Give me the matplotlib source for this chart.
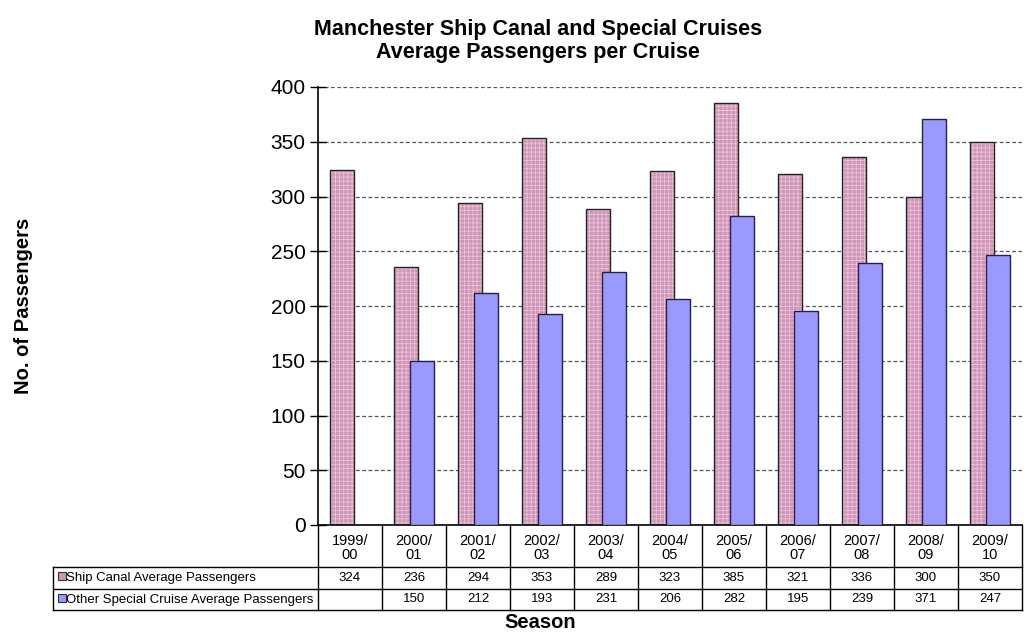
import numpy as np
import matplotlib.pyplot as plt
from matplotlib.transforms import blended_transform_factory

plt.rcParams['font.family'] = ['Liberation Sans', 'DejaVu Sans']

seasons = ['1999/\n00', '2000/\n01', '2001/\n02', '2002/\n03', '2003/\n04', '2004/\n05',
           '2005/\n06', '2006/\n07', '2007/\n08', '2008/\n09', '2009/\n10']
ship_canal = [324, 236, 294, 353, 289, 323, 385, 321, 336, 300, 350]
special = [None, 150, 212, 193, 231, 206, 282, 195, 239, 371, 247]
series_names = ['Ship Canal Average Passengers', 'Other Special Cruise Average Passengers']

pink = '#CF94B8'
pink_hatch = '#E9C3D8'
blue = '#9999FF'

fig = plt.figure(figsize=(10.26, 6.37), dpi=100)
ax = fig.add_axes([318 / 1026, 1 - 525 / 637, 704 / 1026, 438 / 637])

x = np.arange(len(seasons))
w = 0.375
plt.rcParams['hatch.linewidth'] = 0.6
# pink bars with a fine light grid, then outline
ax.bar(x - 0.125, ship_canal, w, color=pink, edgecolor=pink_hatch, hatch='++++', linewidth=0, zorder=2)
ax.bar(x - 0.125, ship_canal, w, facecolor='none', edgecolor='#222222', linewidth=1, zorder=3)
sx = [xi for xi, v in zip(x, special) if v is not None]
sv = [v for v in special if v is not None]
ax.bar(np.array(sx) + 0.125, sv, w, color=blue, edgecolor='#222244', linewidth=1, zorder=4)

ax.set_xlim(-0.5, len(seasons) - 0.5)
ax.set_ylim(0, 400)
ax.set_yticks(range(0, 401, 50))
ax.tick_params(axis='y', direction='inout', length=12, width=1, labelsize=15, pad=3)
ax.set_xticks([])
for v in range(50, 401, 50):
    ax.axhline(v, color='#555555', linestyle=(0, (3, 2)), linewidth=0.9, zorder=1)
for s in ['top', 'right']:
    ax.spines[s].set_visible(False)
ax.spines['left'].set_linewidth(1.2)
ax.spines['bottom'].set_linewidth(1.2)

# data table below the axes
tr = blended_transform_factory(ax.transData, ax.transAxes)
h = 438.0
y0 = 0
y1 = -(567 - 525) / h
y2 = -(589 - 525) / h
y3 = -(610 - 525) / h
xl = -0.5 - (318 - 53) / 64.0
xr = len(seasons) - 0.5
kw = dict(color='black', linewidth=1, transform=tr, clip_on=False)
for k in range(len(seasons) + 1):
    ax.plot([k - 0.5, k - 0.5], [y0, y3], **kw)
for yy in [y1, y2, y3]:
    ax.plot([xl, xr], [yy, yy], **kw)
ax.plot([xl, xl], [y1, y3], **kw)

for i, s in enumerate(seasons):
    ax.text(i, (y0 + y1) / 2 - 0.004, s, ha='center', va='center', fontsize=10.5, transform=tr, linespacing=1.0)
    ax.text(i, (y1 + y2) / 2, str(ship_canal[i]), ha='center', va='center', fontsize=9.5, transform=tr)
    if special[i] is not None:
        ax.text(i, (y2 + y3) / 2, str(special[i]), ha='center', va='center', fontsize=9.5, transform=tr)

key_x = xl + 9 / 64.0
for yy_a, yy_b, name, col in [(y1, y2, series_names[0], pink), (y2, y3, series_names[1], blue)]:
    yc = (yy_a + yy_b) / 2
    ax.plot([key_x], [yc + 0.004], marker='s', markersize=6, markerfacecolor=col,
            markeredgecolor='#333333', markeredgewidth=0.8, transform=tr, clip_on=False)
    ax.text(key_x + 4 / 64.0, yc, name, ha='left', va='center', fontsize=9.5, transform=tr)

fig.text(538 / 1026, 1 - 41 / 637, 'Manchester Ship Canal and Special Cruises\nAverage Passengers per Cruise',
         ha='center', va='center', fontsize=15.5, fontweight='bold', linespacing=1.15)
fig.text(24 / 1026, 1 - 306 / 637, 'No. of Passengers', rotation=90, ha='center', va='center',
         fontsize=14.5, fontweight='bold')
fig.text(540 / 1026, 1 - 622 / 637, 'Season', ha='center', va='center', fontsize=14.5, fontweight='bold')

fig.savefig('out.png', dpi=100)
